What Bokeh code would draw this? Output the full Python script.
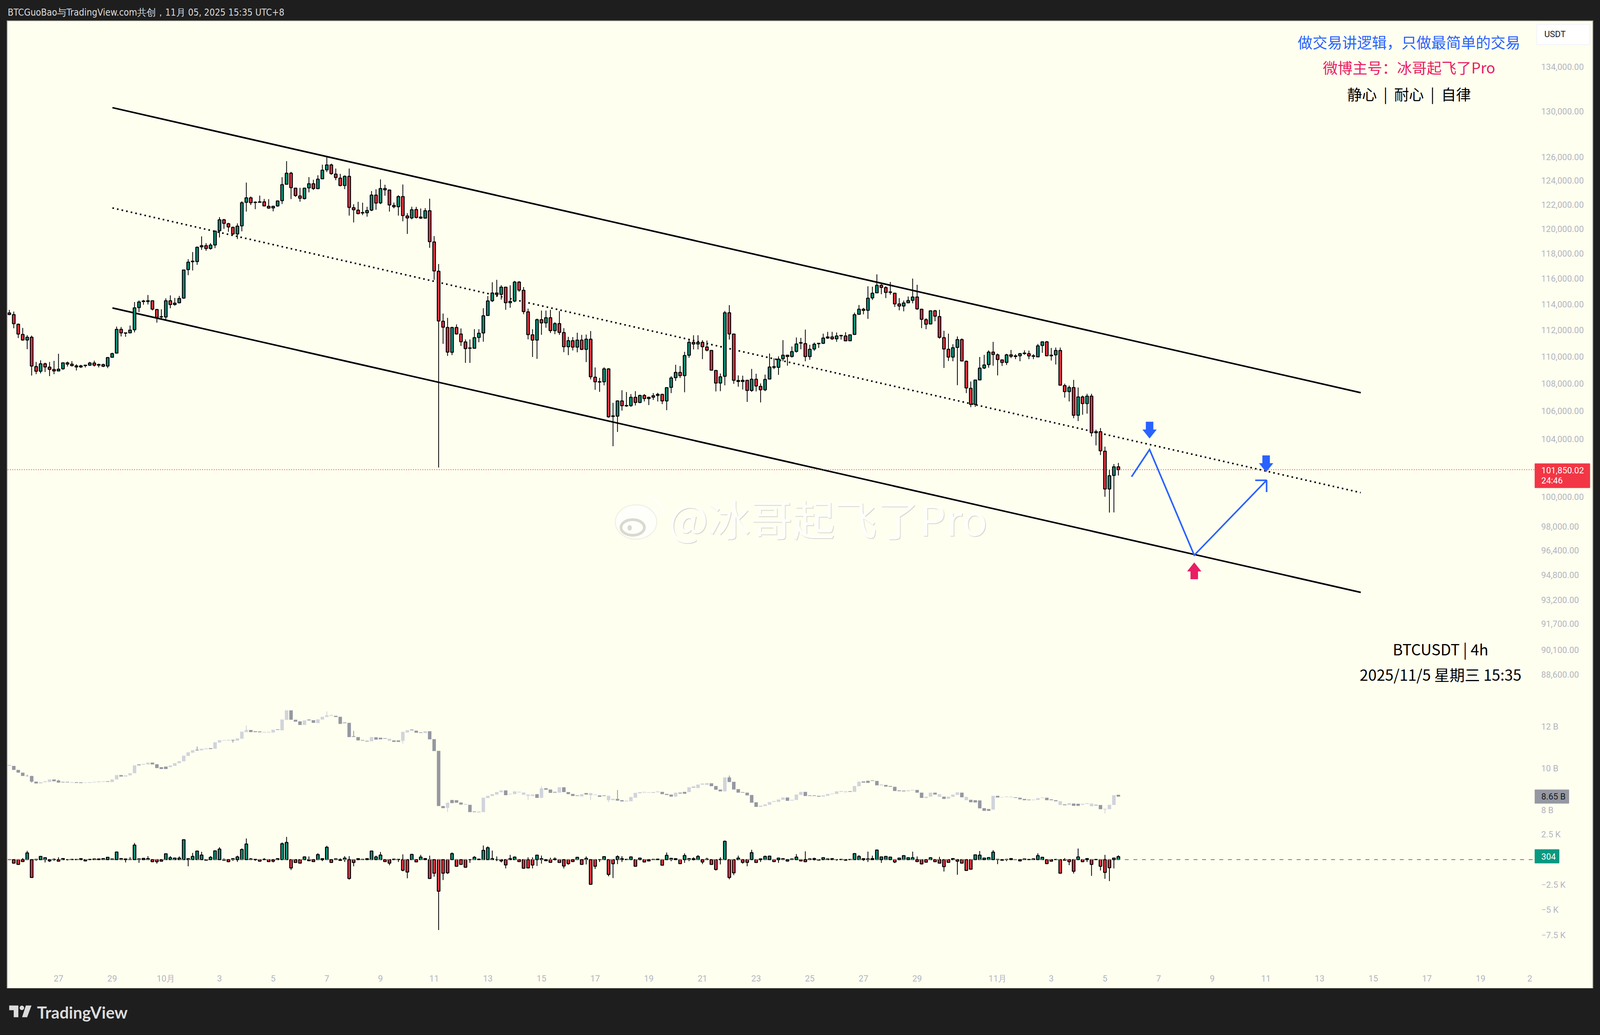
import math
from bokeh.plotting import figure
from bokeh.layouts import column
from bokeh.models import Range1d, FixedTicker, NumeralTickFormatter, Label, Span
from bokeh.core.properties import value
from bokeh.embed import file_html
from bokeh.resources import INLINE

# ---------- price candles (4h, BTCUSDT), bar 0 = 25 Sep 04:00 ----------
open_ = [113320,113190,112450,111670,111250,111460,109260,108910,109460,109210,
109040,108930,109090,109530,109430,109230,109230,109330,109360,109520,
109410,109400,109290,109950,110260,112060,111790,111790,112030,113730,
114200,114200,114260,113580,113010,113010,114260,113970,114100,114470,
116710,117340,117350,118530,118630,118400,118680,119840,120730,120410,
120120,119580,120240,122180,122550,122160,122180,122220,121850,121720,
121880,122320,123690,124620,123360,122710,122490,123390,123730,123320,
124150,124910,125330,124550,124210,123580,124360,121730,121530,121330,
121310,121530,122780,122130,123330,123210,121920,121810,122660,121050,
120890,121580,120960,120870,121480,118930,116580,112680,112200,110320,
112200,111700,111100,110620,110620,111440,111780,113120,114260,114860,
114760,115320,114110,114240,115720,115080,113400,111640,111240,112800,
112550,112950,111960,112500,111810,110740,111200,110710,111240,110540,
111310,108470,108140,108130,109080,105610,105630,106730,106370,106390,
106990,106620,107130,106900,107000,107130,107210,106730,107720,108430,
108820,108580,110100,111070,110950,111070,110720,110460,108970,108040,
108530,113330,111700,108150,108150,108240,107490,108320,107790,107540,
108330,109200,109200,109840,110100,110010,110390,111010,110980,110000,
110570,110970,111000,111400,111480,111340,111570,111550,111190,111670,
113210,113600,113520,114480,114880,115470,115290,114920,114850,114010,
113850,114100,114290,114550,113600,112800,112470,113480,113040,111430,
110550,109960,110690,111280,109650,107650,106480,108270,109150,109400,
110340,110130,109750,109560,110130,110010,110060,110230,110220,110060,
109980,110840,111110,110060,110130,110460,107850,107410,107710,105690,
107020,106540,107080,104440,104520,103140,100520,101450,102050]
close = [113200,112490,111705,111250,111460,109290,108910,109460,109230,109050,
108930,109060,109530,109440,109320,109310,109310,109360,109520,109360,
109360,109280,109930,110220,112060,111790,111770,112000,113710,114160,
114240,114260,113610,112970,113030,114260,113970,114070,114440,116680,
117300,117380,118500,118630,118400,118670,119810,120730,120440,120150,
119580,120210,122150,122550,122150,122190,122220,121880,121700,121850,
122290,123660,124620,123400,122740,122520,123360,123730,123330,124120,
124880,125330,124590,124260,123580,124360,121760,121560,121240,121300,
121500,122780,122110,123330,123220,121960,121810,122660,121080,120890,
121560,120930,120870,121480,118950,116600,112700,112220,110340,112200,
111710,111120,110600,110650,111430,111760,113100,114250,114860,114760,
115320,114110,114210,115720,115090,113420,111660,111240,112800,112550,
112950,111960,112500,111830,110740,111200,110710,111240,110540,111310,
108500,108130,108110,109080,105580,105650,106730,106380,106400,106990,
106620,107130,106900,106990,107110,107210,106730,107700,108410,108820,
108580,110080,111070,110950,111070,110740,110480,108990,108040,108500,
113330,111710,108240,108220,108240,107490,108320,107820,107540,108300,
109220,109250,109810,110100,110010,110370,110950,111050,110000,110550,
110930,111000,111400,111480,111340,111550,111600,111180,111640,113180,
113600,113510,114460,114850,115470,115300,114910,114950,114020,113850,
114090,114280,114550,113630,112830,112450,113480,113070,111450,110570,
109960,110670,111280,109670,107680,106480,108260,109140,109370,110340,
110160,109780,109560,110130,110020,110050,110220,110260,110050,110020,
110810,111110,110060,110100,110460,107880,107410,107710,105690,107020,
106540,107080,104440,104520,103170,100520,101430,102050,101850]
high = [113550,113420,112510,112160,111620,111580,109600,109720,109550,109600,
109680,110210,109570,109630,109660,109430,109390,109360,109610,109690,
109470,109470,109970,110290,112270,112240,111790,112350,114160,114290,
114330,114710,114260,113630,113600,114450,114680,114480,114640,116680,
117540,118110,118550,119380,118830,118830,119840,120950,120810,120480,
120170,120440,122260,123830,122660,122260,122740,122460,122440,121900,
122330,124290,125650,124740,123360,123390,123390,124290,124070,124450,
125350,126100,125440,125020,124570,124440,125020,122020,122220,122150,
121810,123120,123270,124100,123650,123240,122160,122770,123670,121280,
121810,121800,121670,121700,122480,119400,117150,113270,112940,112250,
112440,112130,111290,111290,112070,112070,113680,114630,115710,115900,
115480,115360,115470,115820,115800,115330,113650,112070,112880,113500,
113500,113560,112600,113460,112150,111490,111470,111800,111640,111660,
111930,109190,108420,109200,109140,106590,106770,107510,107380,107230,
107440,107180,107230,107040,107300,107320,107250,107700,108540,109390,
109300,110360,111330,111610,111610,111240,111210,110460,108970,108740,
113470,113920,111720,108600,108580,108270,109080,108720,108010,108660,
110230,109870,110020,111240,110130,110760,111440,111410,112040,110890,
111060,111020,111730,111870,111870,111820,111600,111840,111680,113340,
113930,113710,115390,115360,116330,115570,115390,115730,114850,114470,
114280,114590,116000,115510,113600,112910,113480,113550,113560,111950,
111730,110930,111520,111370,109710,108150,108280,109970,110130,110470,
111110,110230,109780,110210,110500,110180,110270,110470,110450,110180,
110950,111150,111180,110650,110680,110680,107990,107850,108270,107710,
107120,107250,107250,104660,104780,103460,101840,102240,102320]
low = [113150,112140,111400,111200,110560,108590,108690,108750,108850,108550,
108690,108930,109020,109260,109270,108970,109150,109190,109310,109260,
109190,109210,109140,109930,110230,111520,111490,111770,111830,113380,
113950,113970,113510,112570,112820,112780,113680,113880,114070,114420,
116270,116640,117090,118290,118210,118310,118430,119290,119990,119750,
119510,119160,119790,121410,121950,121610,122160,121880,121640,121430,
121810,122040,123650,122450,122630,122230,122420,123010,123210,123310,
124120,124720,124490,124030,123510,123280,121080,120520,121190,121120,
120990,121450,121560,122030,122730,121410,121680,121080,120610,119580,
120770,120840,120810,120870,118450,115900,102000,110960,110050,110110,
111660,110800,109530,109530,110590,111080,111120,113100,114160,114550,
114350,113560,113720,114150,114960,113220,111300,109970,109830,111640,
112180,111780,111690,111640,110330,110110,110460,110320,110490,109590,
108300,107540,107390,107870,105520,103490,104500,106030,106300,106300,
106400,106570,106690,106430,106800,106690,106500,106060,107300,108190,
108410,107360,109910,110540,110540,109810,110390,108990,107420,107440,
107870,111280,107980,107770,107560,106660,107390,107420,106620,107440,
108310,109070,108640,109650,109320,109930,110300,110550,109650,109760,
110430,110650,110950,111340,111260,111110,111280,111180,111180,111640,
113180,113210,112860,114320,114850,114770,114470,114740,113780,113520,
113440,114090,114060,113550,112150,112070,112450,112680,111350,109150,
109670,109650,107880,109650,107300,106280,106300,108230,109070,109170,
109320,108600,109300,109370,109890,109810,109650,110130,109810,109810,
109970,110280,110040,109700,109410,107880,106970,106690,105480,105280,
105730,105810,104180,103550,102870,99990,98920,98930,101450]

# ---------- grey candle series, billions ----------
vol_open = [10.16,10.12,9.93,9.80,9.64,9.64,9.37,9.28,9.34,9.35,
9.47,9.42,9.36,9.36,9.31,9.34,9.33,9.31,9.31,9.33,
9.34,9.36,9.39,9.35,9.47,9.68,9.61,9.67,9.77,10.19,
10.18,10.19,10.28,10.20,10.06,10.09,10.06,10.12,10.25,10.34,
10.60,10.75,10.89,10.87,10.92,10.97,10.94,11.24,11.33,11.33,
11.37,11.33,11.42,11.74,11.84,11.78,11.77,11.72,11.72,11.72,
11.87,11.82,12.32,12.78,12.33,12.25,12.08,12.34,12.31,12.17,
12.34,12.46,12.52,12.52,12.47,12.20,12.18,11.54,11.50,11.36,
11.32,11.30,11.49,11.47,11.45,11.32,11.34,11.34,11.32,11.72,
11.86,11.81,11.73,11.69,11.78,11.40,10.84,8.20,8.11,8.49,
8.48,8.37,8.26,8.26,7.94,7.89,7.91,8.58,8.68,8.75,
8.86,8.95,8.76,8.77,8.85,8.74,8.69,8.68,8.77,8.59,
9.05,8.99,8.88,8.84,9.10,8.87,8.78,8.71,8.66,8.82,
8.72,8.72,8.71,8.71,8.48,8.48,8.54,8.48,8.42,8.43,
8.60,8.81,8.84,8.83,8.86,8.86,8.88,8.78,8.75,8.65,
8.84,8.88,8.87,9.12,9.06,9.22,9.21,9.29,9.16,8.99,
8.90,9.57,9.36,9.01,8.87,8.84,8.73,8.38,8.16,8.20,
8.26,8.40,8.40,8.50,8.61,8.46,8.49,8.73,8.88,8.71,
8.71,8.69,8.65,8.69,8.77,8.78,8.88,8.86,8.91,8.88,
9.15,9.38,9.41,9.43,9.40,9.22,9.21,9.16,9.12,8.95,
8.94,8.94,8.95,8.97,8.84,8.58,8.65,8.84,8.64,8.65,
8.55,8.64,8.73,8.84,8.48,8.50,8.48,8.47,8.10,8.06,
8.03,8.69,8.61,8.63,8.62,8.62,8.60,8.54,8.51,8.48,
8.49,8.58,8.60,8.52,8.48,8.25,8.28,8.25,8.32,8.31,
8.26,8.30,8.19,8.26,8.25,8.04,8.05,8.25,8.74]
vol_close = [10.14,9.93,9.80,9.64,9.63,9.37,9.28,9.34,9.39,9.47,
9.39,9.32,9.33,9.33,9.34,9.31,9.30,9.33,9.34,9.36,
9.38,9.39,9.36,9.47,9.68,9.61,9.67,9.77,10.15,10.15,
10.22,10.28,10.19,10.02,9.97,9.97,10.14,10.25,10.35,10.61,
10.77,10.87,10.86,10.94,10.96,10.93,11.25,11.35,11.36,11.37,
11.34,11.44,11.76,11.84,11.74,11.74,11.73,11.75,11.75,11.85,
11.84,12.34,12.78,12.33,12.24,12.08,12.30,12.30,12.18,12.35,
12.47,12.54,12.56,12.46,12.13,12.17,11.50,11.51,11.34,11.33,
11.29,11.50,11.38,11.39,11.42,11.42,11.27,11.27,11.75,11.83,
11.82,11.71,11.70,11.78,11.39,10.83,8.20,8.10,8.36,8.34,
8.36,8.27,8.30,7.91,7.91,7.94,8.60,8.69,8.77,8.87,
8.95,8.72,8.79,8.90,8.89,8.85,8.75,8.75,8.59,9.05,
8.98,8.83,8.84,9.10,8.87,8.77,8.68,8.68,8.77,8.75,
8.82,8.75,8.64,8.68,8.69,8.55,8.46,8.42,8.46,8.63,
8.83,8.87,8.88,8.86,8.84,8.90,8.77,8.73,8.65,8.84,
8.80,8.79,9.10,9.09,9.23,9.28,9.30,9.15,8.98,8.90,
9.57,9.35,8.99,8.84,8.84,8.71,8.36,8.16,8.22,8.28,
8.39,8.44,8.51,8.61,8.45,8.50,8.75,8.88,8.68,8.68,
8.68,8.65,8.71,8.78,8.80,8.90,8.92,8.90,8.88,9.16,
9.37,9.32,9.31,9.40,9.19,9.20,9.13,9.12,8.92,8.91,
8.90,8.92,8.98,8.84,8.59,8.65,8.84,8.75,8.77,8.54,
8.65,8.75,8.86,8.62,8.64,8.38,8.37,8.09,7.97,7.97,
8.69,8.61,8.63,8.66,8.65,8.59,8.52,8.48,8.48,8.51,
8.58,8.61,8.48,8.48,8.43,8.43,8.24,8.34,8.21,8.21,
8.31,8.34,8.32,8.23,8.05,8.07,8.26,8.72,8.65]
vol_wick_bar = [4,5,11,42,50,53,71,77,88,98,116,119,130,134,136,161,245]
vol_wick_high = [9.70,9.64,9.46,11.04,11.37,12.05,12.73,11.80,11.75,8.36,8.75,9.16,8.82,8.69,8.97,9.66,8.07]
vol_wick_low = [9.61,9.32,9.32,10.86,11.24,11.74,12.46,11.51,11.19,7.91,8.49,8.59,8.49,8.39,8.46,9.35,7.84]

# ---------- lower candle series (opens at 0) ----------
cvd_close = [0,-348,-474,-190,664,-1771,32,316,190,-126,
32,-158,111,0,32,16,95,-126,32,63,
63,111,237,63,759,111,63,32,1439,79,
126,111,-206,-206,-158,585,190,158,158,1976,
95,316,854,458,-63,237,870,1043,-63,-206,
95,269,1012,1549,63,32,-158,32,-190,-158,
95,1581,1707,-822,-285,-348,269,-111,-190,506,
95,1233,-285,79,-79,158,-1866,-285,95,32,
95,854,269,458,-190,-348,47,32,-1059,-1233,
522,-221,253,111,-1866,-1344,-3130,-1344,-1312,601,
-664,-474,-759,0,237,47,917,1186,95,0,
-126,-522,95,253,-190,-854,-822,-538,443,95,
-111,-269,63,-285,-632,-395,-190,237,-474,126,
-2451,-664,0,300,-1470,-411,300,95,32,269,
-664,158,-237,-126,32,47,-553,427,126,95,
-395,411,95,95,316,-237,47,-474,-980,32,
1818,-1771,-1312,158,-269,-269,696,-285,79,316,
348,-190,158,95,-142,63,253,-126,-206,79,
111,-47,190,63,95,0,32,-63,16,601,
316,95,79,111,949,269,316,253,-237,158,
395,190,190,-190,-427,-253,190,-206,-348,-696,
-269,111,-158,-348,-1075,-949,474,443,158,206,
743,32,-63,32,111,0,-126,63,16,79,
395,237,-395,-158,16,-1344,-63,-206,-1154,269,
-206,111,-474,16,-664,-1265,-806,158,304]
cvd_high_over = {3:158,4:870,10:126,11:237,27:253,28:1660,31:348,36:348,38:316,41:664,42:870,43:775,45:348,
47:1233,48:126,51:395,52:1107,53:2103,54:158,57:158,61:1707,62:2261,66:316,67:316,69:632,71:1375,74:126,
75:348,76:348,82:395,83:759,88:522,92:474,94:395,99:711,104:348,106:1407,107:1312,108:901,109:316,112:474,
113:316,116:237,117:237,119:411,121:190,122:237,129:316,136:427,137:348,139:316,147:711,151:632,152:158,
153:237,154:443,156:190,159:237,160:1897,163:395,166:980,169:395,176:553,178:822,180:190,184:158,190:443,
192:790,193:395,194:1012,202:790,203:316,208:285,217:854,220:949,230:632,236:158,239:1107,245:474,248:427}
cvd_low_over = {1:-395,2:-506,6:-126,8:-285,9:-237,10:-126,13:-79,15:-32,22:-32,25:-32,26:-285,27:-32,29:-316,
32:-237,33:-395,40:-664,49:-237,50:-126,51:-221,54:-32,55:-126,59:-285,63:-1028,70:-158,75:-237,76:-1976,
77:-664,85:-553,87:-237,88:-1154,89:-1850,95:-1692,96:-6988,97:-2024,98:-1423,103:-316,109:-158,110:-285,
111:-870,115:-901,117:-870,118:-632,119:-395,122:-79,124:-870,125:-506,129:-474,131:-917,132:-237,134:-1660,
135:-1834,136:-443,137:-237,148:-158,149:-32,151:-316,152:-158,153:-79,155:-443,158:-1075,159:-474,161:-1945,
162:-1534,164:-395,165:-664,168:-237,172:-316,180:-79,185:-111,191:-126,192:-237,195:-316,198:-348,209:-1186,
212:-1502,221:-443,223:-158,237:-553,238:-1376,241:-237,242:-1612,244:-1075,245:-1897,246:-2134,247:-870}

# ---------- axes ----------
price_ticks = [134000,130000,126000,124000,122000,120000,118000,116000,114000,112000,110000,108000,
               106000,104000,100000,98000,96400,94800,93200,91700,90100,88600]
vol_ticks = {12:"12 B",10:"10 B",8:"8 B"}
cvd_ticks = {2500:"2.5 K",-2500:"\u22122.5 K",-5000:"\u22125 K",-7500:"\u22127.5 K"}
date_ticks = {11:"27",23:"29",35:"10月",47:"3",59:"5",71:"7",83:"9",95:"11",107:"13",119:"15",131:"17",
              143:"19",155:"21",167:"23",179:"25",191:"27",203:"29",221:"11月",233:"3",245:"5",257:"7",
              269:"9",281:"11",293:"13",305:"15",317:"17",329:"19",340:"2"}

# ---------- drawings: (bar, price) ----------
upper_x, upper_y = [23.06,302.2], [130310,107330]
lower_x, lower_y = [23.06,302.2], [113700,93690]
mid_x, mid_y = [23.06,302.2], [121710,100270]
path_x, path_y = [250.95,254.98,264.97,281.15], [101365,103255,96090,101120]
head_x, head_y = [278.6,281.15,281.15], [101120,101120,100310]
last_price = 101850.02

BG="#FFFFF0"; DARK="#1E1E1E"; GREEN="#089981"; RED="#F23645"; BLUE="#2962FF"; PINK="#E91E63"; TICK="#B2B5BE"
FONT="Roboto"; CJK="Noto Sans CJK SC"
BAR_PX=11.905; LOG_PX=3762.0
X0=-0.378; X1=341.07
SX=4096/4260          # the photographed page is 4096 wide
LEFT=19; WIDTH=4058; FRAME_W=3909; RIGHT=149

assert len(open_)==len(close)==len(high)==len(low)==249, (len(open_),len(close),len(high),len(low))
assert len(vol_open)==len(vol_close)==len(cvd_close)==249, (len(vol_open),len(vol_close),len(cvd_close))

def pane(h, bottom=0, **kw):
    p=figure(width=WIDTH,height=h+bottom,frame_width=FRAME_W,frame_height=h,x_range=Range1d(X0,X1),output_backend="svg",toolbar_location=None,
             min_border_left=0,min_border_right=RIGHT,min_border_top=0,min_border_bottom=bottom,
             background_fill_color=BG,border_fill_color=BG,outline_line_color=None,y_axis_location="right",
             styles={"background-color":BG},**kw)
    p.grid.grid_line_color=None
    return p

def style_y(ax):
    ax.axis_line_color=None; ax.major_tick_line_color=None; ax.minor_tick_line_color=None
    ax.major_tick_in=0; ax.major_tick_out=0; ax.major_label_standoff=17
    ax.major_label_text_color=TICK; ax.major_label_text_font=FONT; ax.major_label_text_font_size="22px"

def put(p,frame_bottom,px,py,text,size,color,font=FONT,align="left",**kw):
    l=Label(x=px*SX-LEFT,y=frame_bottom-py,x_units="screen",y_units="screen",text=text,text_font=font,
            text_font_size=f"{size}px",text_color=color,text_align=align,text_baseline="middle",**kw)
    p.add_layout(l)
    return l

def candles(p,x,lo,hi,o,c):
    up=[i for i in range(len(o)) if c[i]>=o[i]]; dn=[i for i in range(len(o)) if c[i]<o[i]]
    p.segment(x,hi,x,lo,line_color="black",line_width=2)
    for idx,col in ((up,GREEN),(dn,RED)):
        p.vbar(x=[x[i] for i in idx],width=0.59,top=[max(o[i],c[i]) for i in idx],bottom=[min(o[i],c[i]) for i in idx],
               fill_color=col,line_color="black",line_width=2.5)

bars=list(range(249))

# main pane
FB_MAIN=1790
main=pane(1736,y_axis_type="log",y_range=Range1d(87113,138200),x_axis_location=None)
style_y(main.yaxis[0])
main.yaxis[0].ticker=FixedTicker(ticks=price_ticks)
main.yaxis[0].formatter=NumeralTickFormatter(format="0,0.00")
main.add_layout(Span(location=last_price,dimension="width",line_color=RED,line_width=2,line_dash="2 4"))
main.line(upper_x,upper_y,line_color="black",line_width=4)
main.line(lower_x,lower_y,line_color="black",line_width=4)
main.line(mid_x,mid_y,line_color="black",line_width=4,line_dash="4 8")
candles(main,bars,low,high,open_,close)
main.line(path_x,path_y,line_color=BLUE,line_width=4,line_join="miter")
main.line(head_x,head_y,line_color=BLUE,line_width=4)

def arrow(tip_bar,tip_price,sign,color):
    dx=[0,19,10,10,-10,-10,-19]; dy=[0,23,23,43,43,23,23]
    main.patch([tip_bar+d/BAR_PX for d in dx],[tip_price*math.exp(sign*d/LOG_PX) for d in dy],fill_color=color,line_color=None)
arrow(254.98,104032,1,BLUE); arrow(281.04,101675,1,BLUE); arrow(264.97,95622,-1,PINK)

# watermark logo
def bx(px): return (px-24.5)/BAR_PX
def pr(py): return 100000*math.exp((1271-py)/LOG_PX)
main.ellipse([bx(1693)],[pr(1336)],width=106,height=88,width_units="screen",height_units="screen",fill_color="#FEFEFA",line_color="#EDEDE0",line_width=2)
main.ellipse([bx(1684)],[pr(1350)],width=60,height=40,width_units="screen",height_units="screen",fill_color="#FEFEFA",line_color="#D9D9CE",line_width=7)
main.ellipse([bx(1676)],[pr(1351)],width=11,height=14,width_units="screen",height_units="screen",fill_color="#D9D9CE",line_color=None)
for r,w in ((43,6),(24,6)):
    a=[k*math.pi/40 for k in range(21)]
    main.line([bx(1723+r*math.sin(t)) for t in a],[pr(1317-r*math.cos(t)) for t in a],line_color="#FEFEFA",line_width=w)

# texts
put(main,FB_MAIN,3751,106,"做交易讲逻辑，只做最简单的交易",38,BLUE,CJK,"center")
put(main,FB_MAIN,3751,171,"微博主号：冰哥起飞了Pro",38,PINK,CJK,"center")
put(main,FB_MAIN,3751,239,"静心\u00a0\u00a0|\u00a0\u00a0耐心\u00a0\u00a0|\u00a0\u00a0自律",38,"#000000",CJK,"center")
put(main,FB_MAIN,3835,1660,"BTCUSDT | 4h",39,"#000000",CJK,"center")
put(main,FB_MAIN,3835,1725,"2025/11/5 星期三 15:35",39,"#000000",CJK,"center")
put(main,FB_MAIN,1781,1326,"@冰哥起飞了Pro",108,"#D8D8CC",CJK)
put(main,FB_MAIN,1779,1324,"@冰哥起飞了Pro",108,"#FEFEFA",CJK)

# grey pane
FB_VOL=2100
vol=pane(310,y_range=Range1d(7.514,13.308),x_axis_location=None)
style_y(vol.yaxis[0])
vol.yaxis[0].ticker=FixedTicker(ticks=list(vol_ticks))
vol.yaxis[0].major_label_overrides=dict(vol_ticks)
LIGHT="#D1D4DC"; MID="#9598A1"
vup=[i for i in bars if vol_close[i]>=vol_open[i]]; vdn=[i for i in bars if vol_close[i]<vol_open[i]]
vol.segment(vol_wick_bar,vol_wick_high,vol_wick_bar,vol_wick_low,line_color=[LIGHT if vol_close[i]>=vol_open[i] else MID for i in vol_wick_bar],line_width=2)
for idx,col in ((vup,LIGHT),(vdn,MID)):
    vol.vbar(x=idx,width=0.78,top=[max(vol_open[i],vol_close[i]) for i in idx],bottom=[min(vol_open[i],vol_close[i]) for i in idx],
             fill_color=col,line_color=None)

# lower pane
FB_CVD=2470
cvd=pane(370,bottom=60,y_range=Range1d(-10446,3895))
style_y(cvd.yaxis[0])
cvd.yaxis[0].ticker=FixedTicker(ticks=list(cvd_ticks))
cvd.yaxis[0].major_label_overrides=dict(cvd_ticks)
xa=cvd.xaxis[0]
xa.ticker=FixedTicker(ticks=list(date_ticks)); xa.major_label_overrides=dict(date_ticks)
xa.axis_line_color=None; xa.major_tick_line_color=None; xa.minor_tick_line_color=None
xa.major_tick_in=0; xa.major_tick_out=0; xa.major_label_standoff=22
xa.major_label_text_color=TICK; xa.major_label_text_font=FONT; xa.major_label_text_font_size="22px"
cvd.add_layout(Span(location=0,dimension="width",line_color="#787B86",line_width=2,line_dash="10 12"))
cvd_hi=[cvd_high_over.get(i,max(cvd_close[i],0)) for i in bars]
cvd_lo=[cvd_low_over.get(i,min(cvd_close[i],0)) for i in bars]
candles(cvd,bars,cvd_lo,cvd_hi,[0]*249,cvd_close)

# header / footer
def bar(y0,y1):
    p=figure(width=4096,height=y1-y0,x_range=Range1d(0,4260),y_range=Range1d(y1,y0),output_backend="svg",toolbar_location=None,
             x_axis_location=None,y_axis_location=None,min_border=0,background_fill_color=DARK,border_fill_color=DARK,outline_line_color=None)
    p.grid.grid_line_color=None
    return p
head=bar(0,54)
head.text([20],[31],text=["BTCGuoBao与TradingView.com共创，11月 05, 2025 15:35 UTC+8"],text_font=value("DejaVu Sans Condensed"),
          text_font_size="24px",text_color="#DBDBDB",text_baseline="middle")
foot=bar(2530,2650)
foot.patch([24,48.3,48.3,36,36,24],[2574,2574,2604,2604,2586,2586],fill_color="#DBDBDB",line_color=None)
foot.scatter([57.7],[2580],size=11.5,fill_color="#DBDBDB",line_color=None)
foot.patch([68.3,83.3,71.7,58.3],[2574,2574,2604,2604],fill_color="#DBDBDB",line_color=None)
foot.text([98],[2591],text=["TradingView"],text_font=value("Lato"),text_font_style="bold",text_font_size="42px",text_color="#DBDBDB",text_baseline="middle")

# price-scale tags laid over the axis zone, in a transparent figure
tag_left = [4091,4086,4086,4086]; tag_right=[4232,4232,4176,4150]
tag_top  = [62,1187,2022,2175];   tag_bottom=[114,1248,2056,2209]
tag_fill = ["#FFFFFF",RED,MID,GREEN]; tag_line=["#F0F3FA",RED,MID,GREEN]
tag_x    = [4111,4103,4103,4103,4103]
tag_y    = [87,1203,1230,2039,2192]
tag_text = ["USDT","101,850.02","24:46","8.65 B","304"]
tag_col  = ["#131722","#FFFFFF","#FFFFFF","#131722","#FFFFFF"]
ZX=4085
tags=figure(width=4096-round(ZX*SX),height=2476,x_range=Range1d(ZX,4260),y_range=Range1d(2530,54),output_backend="svg",toolbar_location=None,
            x_axis_location=None,y_axis_location=None,min_border=0,background_fill_color=None,border_fill_color=None,outline_line_color=None,
            styles={"position":"absolute","left":f"{round(ZX*SX)}px","top":"54px","z-index":"5"})
tags.grid.grid_line_color=None
tags.quad(left=tag_left,right=tag_right,top=tag_top,bottom=tag_bottom,fill_color=tag_fill,line_color=tag_line,line_width=2)
tags.text(tag_x,tag_y,text=tag_text,text_color=tag_col,text_font=value(FONT),text_font_size="22px",text_baseline="middle")

panel=column(main,vol,cvd,spacing=0,margin=(0,0,0,LEFT),styles={"background-color":BG,"outline":"2px solid #85857A"})
page=column(head,panel,foot,tags,spacing=0)
html=file_html(page,INLINE)
html=html.replace("</head>","<style>html,body{margin:0;padding:0;background:#1E1E1E;}</style></head>",1)
open("out.html","w",encoding="utf-8").write(html)
